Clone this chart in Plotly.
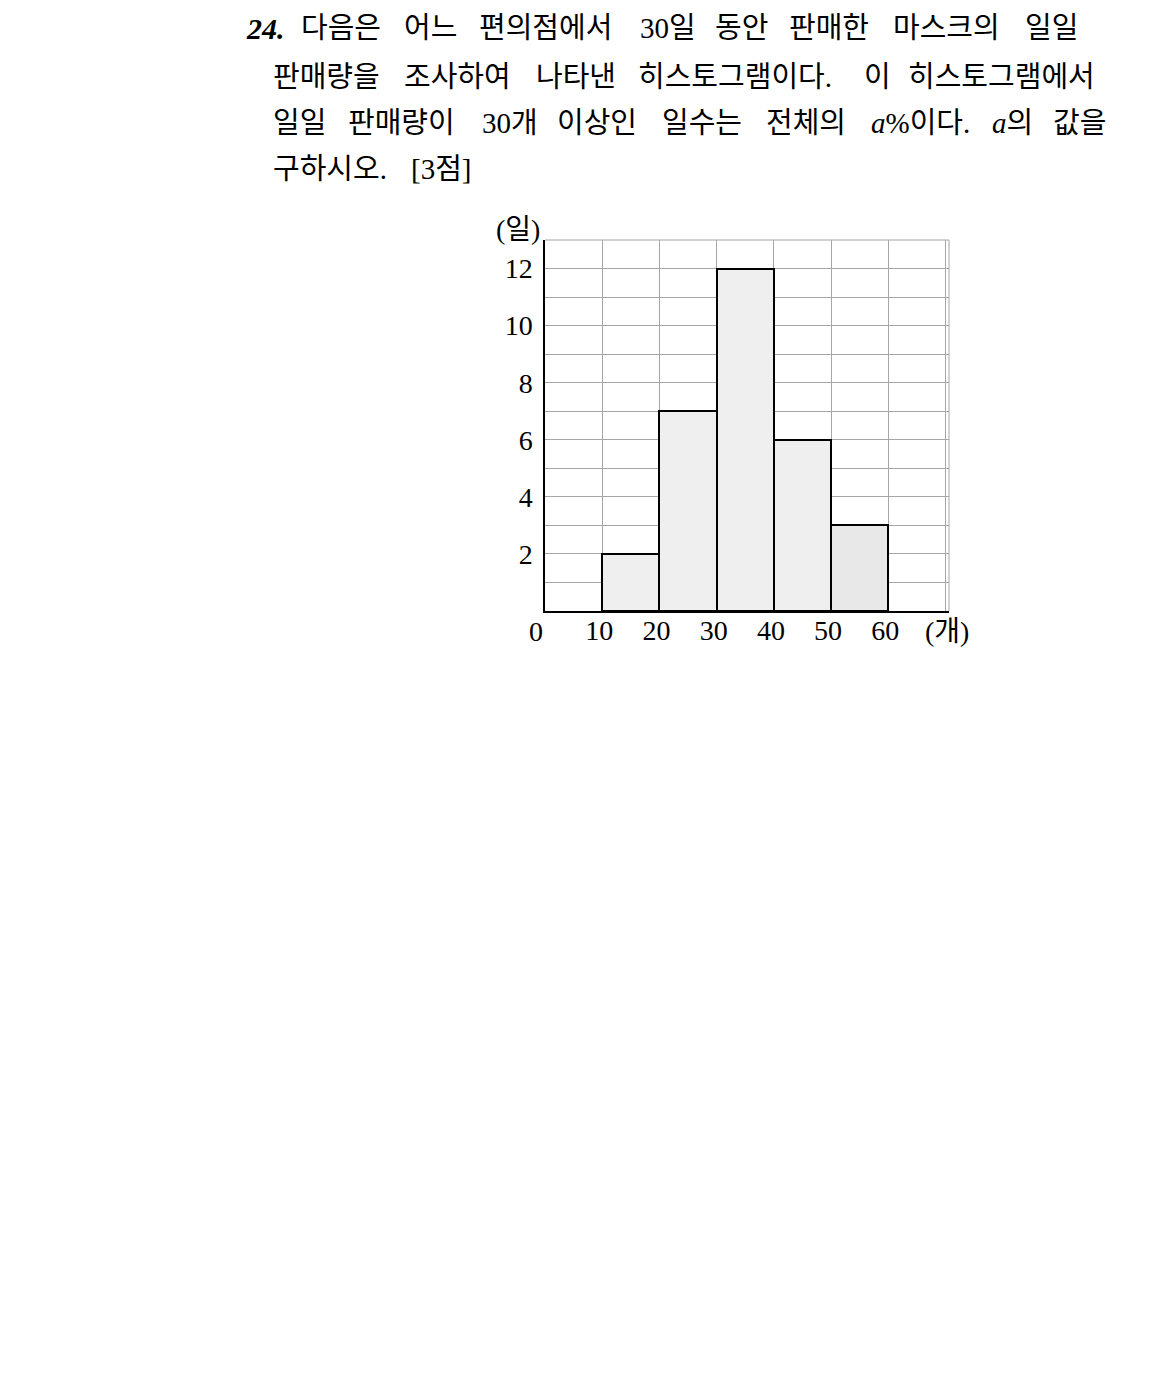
import plotly.graph_objects as go

# ---- data ----
bin_left = [10, 20, 30, 40, 50]
bin_width = 10
days = [2, 7, 12, 6, 3]
x_ticks = [10, 20, 30, 40, 50, 60, 70]
x_ticktext = ["10", "20", "30", "40", "50", "60", ""]
y_ticks = [1, 2, 3, 4, 5, 6, 7, 8, 9, 10, 11, 12]
y_ticktext = ["", "2", "", "4", "", "6", "", "8", "", "10", "", "12"]
x_unit = "(개)"
y_unit = "(일)"
origin_label = "0"
q_number = "24."
q_line1 = ["다음은", "어느", "편의점에서", "30일", "동안", "판매한", "마스크의", "일일"]
q_line2 = ["판매량을", "조사하여", "나타낸", "히스토그램이다.", "이", "히스토그램에서"]
q_line3 = ["일일", "판매량이", "30개", "이상인", "일수는", "전체의", "<i>a</i>%이다.", "<i>a</i>의", "값을"]
q_line4 = ["구하시오.", "[3점]"]

# ---- layout geometry (pixels) ----
W, H = 1163, 1381
PL, PR, PT, PB = 545, 949, 240, 611
FONT = "Liberation Serif, Noto Sans CJK KR"
BODY = 29


def px(xp):
    return (xp - PL) / (PR - PL)


def py(yp):
    return (PB - yp) / (PB - PT)


def em_width(word):
    w = 0.0
    plain = word.replace("<i>", "").replace("</i>", "")
    for ch in plain:
        if "\uac00" <= ch <= "\ud7a3":
            w += 1.0
        elif ch.isdigit() or ch == "a":
            w += 0.5
        elif ch == ".":
            w += 0.25
        elif ch == "%":
            w += 0.833
        elif ch in "[]()":
            w += 0.333
        else:
            w += 0.25
    return w * BODY


fig = go.Figure()
fig.add_trace(go.Bar(
    x=[b + bin_width / 2 for b in bin_left],
    y=days,
    width=bin_width,
    marker=dict(color=["#efefef", "#efefef", "#efefef", "#efefef", "#e8e8e8"],
                line=dict(color="black", width=2)),
    hoverinfo="skip",
))

annotations = []


def add_text(text, xp, yp, size=BODY, xanchor="left", font=FONT):
    annotations.append(dict(
        text=text, x=px(xp), y=py(yp), xref="paper", yref="paper",
        xanchor=xanchor, yanchor="middle", showarrow=False,
        font=dict(family=font, size=size, color="black"),
        borderpad=0,
    ))


def justify(words, x0, x1, yp):
    widths = [em_width(w) for w in words]
    gap = (x1 - x0 - sum(widths)) / (len(words) - 1)
    x = x0
    for w, wd in zip(words, widths):
        add_text(w, x, yp)
        x += wd + gap


line_y = [28, 77, 123, 169]
add_text("<b><i>" + q_number + "</i></b>", 245, line_y[0], size=30)
justify(q_line1, 300, 1082, line_y[0])
justify(q_line2, 272, 1110, line_y[1])
justify(q_line3, 272, 1110, line_y[2])
add_text(q_line4[0], 272, line_y[3])
add_text(q_line4[1], 410, line_y[3])

add_text(origin_label, 536, 631, size=28, xanchor="center")
add_text(x_unit, 947, 631, size=28, xanchor="center")
add_text(y_unit, 518, 229, size=28, xanchor="center")

shapes = [
    dict(type="line", xref="paper", yref="paper", x0=0, x1=1, y0=1, y1=1,
         line=dict(color="#a6a6a6", width=1)),
    dict(type="line", xref="paper", yref="paper", x0=1, x1=1, y0=0, y1=1,
         line=dict(color="#a6a6a6", width=1)),
]

fig.update_layout(
    width=W, height=H, autosize=False,
    margin=dict(l=PL, r=W - PR, t=PT, b=H - PB, pad=0),
    paper_bgcolor="white", plot_bgcolor="white",
    showlegend=False, bargap=0,
    annotations=annotations, shapes=shapes,
    xaxis=dict(range=[0, 70.6], tickvals=x_ticks, ticktext=x_ticktext,
               showgrid=True, gridcolor="#a6a6a6", gridwidth=1,
               showline=True, linecolor="black", linewidth=1.5,
               zeroline=False, ticks="", ticklabelstandoff=-6, ticklabelshift=-3,
               tickfont=dict(family=FONT, size=28, color="black"), fixedrange=True),
    yaxis=dict(range=[0, 13], tickvals=y_ticks, ticktext=y_ticktext,
               showgrid=True, gridcolor="#a6a6a6", gridwidth=1,
               showline=True, linecolor="black", linewidth=1.5,
               zeroline=False, ticks="", ticklabelstandoff=5,
               tickfont=dict(family=FONT, size=28, color="black"), fixedrange=True),
)

fig.write_html("out.html")
